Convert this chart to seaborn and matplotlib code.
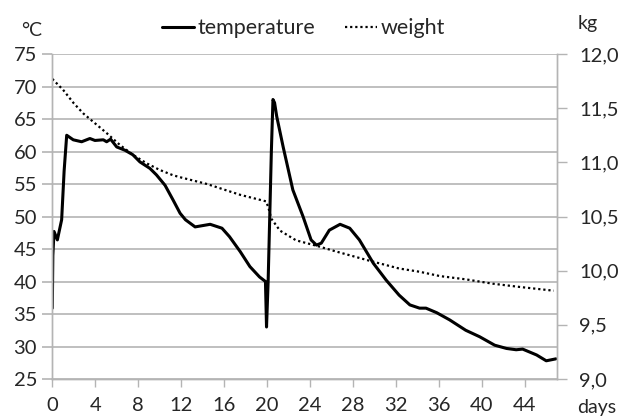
import matplotlib
matplotlib.use("Agg")
import matplotlib.pyplot as plt
import pandas as pd
import seaborn as sns
from matplotlib.lines import Line2D

# temperature curve (days, °C)
temp_days = [0.0, 0.05, 0.16, 0.47, 0.87, 1.1, 1.34, 1.95, 2.73, 3.5, 3.97, 4.75, 5.06, 5.43,
             6.0, 6.76, 7.5, 8.16, 9.09, 9.7, 10.5, 11.26, 11.9, 12.4, 13.3, 14.7, 15.8, 16.5,
             17.5, 18.4, 19.3, 19.85, 19.95, 20.1, 20.4, 20.55, 20.7, 20.9, 21.5, 22.4, 23.35,
             24.1, 24.6, 25.05, 25.8, 26.8, 27.7, 28.6, 29.9, 31.1, 32.3, 33.3, 34.2, 34.8,
             35.8, 37.0, 38.5, 39.8, 41.2, 42.3, 43.2, 43.8, 45.1, 46.0, 46.9]
temp_values = [35.9, 44.0, 47.7, 46.4, 49.5, 57.0, 62.5, 61.8, 61.5, 62.0, 61.7, 61.8, 61.5, 61.9,
               60.7, 60.2, 59.5, 58.4, 57.4, 56.4, 54.8, 52.5, 50.5, 49.5, 48.4, 48.8, 48.2, 46.9,
               44.6, 42.3, 40.7, 40.0, 33.0, 40.0, 60.0, 68.0, 67.5, 65.4, 60.7, 54.1, 50.0,
               46.4, 45.6, 45.9, 47.9, 48.8, 48.2, 46.4, 42.8, 40.2, 37.9, 36.4, 35.9, 35.9,
               35.2, 34.1, 32.5, 31.5, 30.2, 29.7, 29.5, 29.6, 28.7, 27.8, 28.1]

# weight curve (days, kg)
weight_days = [0.0, 1.0, 2.0, 2.9, 3.8, 5.06, 6.3, 7.5, 8.8, 10.0, 11.26, 12.0, 14.4, 17.5,
               19.9, 20.1, 20.4, 21.2, 22.7, 24.6, 26.5, 29.6, 32.3, 34.2, 36.1, 38.5, 41.0,
               43.5, 46.7]
weight_values = [11.77, 11.67, 11.545, 11.45, 11.375, 11.27, 11.16, 11.07, 10.99, 10.93, 10.88,
                 10.86, 10.80, 10.70, 10.64, 10.59, 10.48, 10.37, 10.28, 10.23, 10.175, 10.09,
                 10.02, 9.99, 9.95, 9.92, 9.88, 9.85, 9.815]

x_ticks = list(range(0, 45, 4))
temp_ticks = list(range(25, 80, 5))
weight_ticks = [9.0, 9.5, 10.0, 10.5, 11.0, 11.5, 12.0]

sns.set_style("white")
plt.rcParams["font.family"] = ["Lato", "DejaVu Sans"]
plt.rcParams["font.size"] = 14

fig = plt.figure(figsize=(6.19, 4.18), dpi=100)
ax = fig.add_axes([0.0845, 0.0933, 0.8153, 0.7775])
ax2 = ax.twinx()

temp_df = pd.DataFrame({"day": temp_days, "temp": temp_values})
weight_df = pd.DataFrame({"day": weight_days, "weight": weight_values})

sns.lineplot(data=temp_df, x="day", y="temp", ax=ax, color="black", linewidth=2.2,
             estimator=None, sort=False)
sns.lineplot(data=weight_df, x="day", y="weight", ax=ax2, color="black", linewidth=1.6,
             linestyle=(0, (1, 1.3)), estimator=None, sort=False)

grid_c = "#b4b4b4"
ax.set_xlim(0, 47)
ax.set_ylim(25, 75)
ax2.set_ylim(9, 12)
ax.set_xticks(x_ticks)
ax.set_yticks(temp_ticks)
ax2.set_yticks(weight_ticks)
ax2.set_yticklabels([f"{v:.1f}".replace(".", ",") for v in weight_ticks])
ax.yaxis.grid(True, color=grid_c, linewidth=1.2)
ax.set_axisbelow(True)
ax.set_xlabel("")
ax.set_ylabel("")
ax2.set_ylabel("")

for a in (ax, ax2):
    a.spines["top"].set_visible(False)
    for side in ("left", "right", "bottom"):
        a.spines[side].set_color(grid_c)
        a.spines[side].set_linewidth(1.0)
ax.tick_params(axis="x", direction="out", length=6, color=grid_c, width=1, labelsize=14.5,
               pad=7, bottom=True)
ax.tick_params(axis="y", direction="out", length=7, color=grid_c, width=1.2, labelsize=14.5,
               pad=4, left=True)
ax2.tick_params(axis="y", direction="out", length=7, color=grid_c, width=1, labelsize=14.5,
                pad=9, right=True)

fig.text(0.034, 0.915, "°C", fontsize=14)
fig.text(0.933, 0.93, "kg", fontsize=14)
fig.text(0.996, 0.004, "days", fontsize=14, ha="right", va="bottom")

handles = [Line2D([], [], color="black", linewidth=2.2),
           Line2D([], [], color="black", linewidth=1.6, linestyle=(0, (1, 1.3)))]
fig.legend(handles, ["temperature", "weight"], loc="center", bbox_to_anchor=(0.49, 0.932),
           ncol=2, frameon=False, fontsize=15.5, handlelength=1.5, handletextpad=0.15,
           columnspacing=1.4)

fig.savefig("out.png", dpi=100)
